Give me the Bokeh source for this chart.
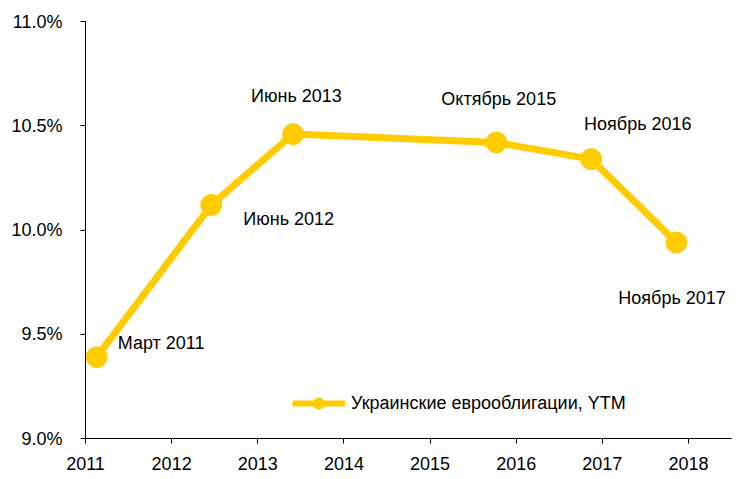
from bokeh.plotting import figure
from bokeh.models import (ColumnDataSource, FixedTicker, PrintfTickFormatter,
                          Range1d, Legend, LegendItem, LabelSet)
from bokeh.core.properties import value
from bokeh.embed import file_html
from bokeh.resources import INLINE

# ---- data ----
dates = [2011.13, 2012.46, 2013.41, 2015.77, 2016.87, 2017.86]
ytm = [9.39, 10.12, 10.46, 10.42, 10.34, 9.94]
point_labels = ["Март 2011", "Июнь 2012", "Июнь 2013", "Октябрь 2015",
                "Ноябрь 2016", "Ноябрь 2017"]
year_ticks = [2011, 2012, 2013, 2014, 2015, 2016, 2017, 2018]
pct_ticks = [9.0, 9.5, 10.0, 10.5, 11.0]
series_name = "Украинские еврооблигации, YTM"

# label offsets (pixels) — layout only
label_dx = [21, 32, -42, -55, -7, -58]
label_dy = [-14, 14, -38, -43, -35, 55]

FONT = "Liberation Sans"
FS = "18px"
YELLOW = "#FFCC00"

src = ColumnDataSource(dict(x=dates, y=ytm, lab=point_labels,
                            dx=label_dx, dy=[-d for d in label_dy]))

p = figure(width=739, height=479, output_backend="svg", toolbar_location=None,
           x_range=Range1d(2011, 2018.5), y_range=Range1d(9.0, 11.0),
           min_border_left=85, min_border_right=8, min_border_top=21,
           min_border_bottom=41, frame_width=646, frame_height=417)
p.outline_line_color = None
p.xgrid.visible = False
p.ygrid.visible = False
p.background_fill_color = "white"

p.line("x", "y", source=src, line_color=YELLOW, line_width=7)
p.scatter("x", "y", source=src, size=21, fill_color=YELLOW, line_color=YELLOW)
labels = LabelSet(x="x", y="y", text="lab", source=src, x_offset="dx", y_offset="dy",
                  text_font=value(FONT), text_font_size=value(FS),
                  text_color=value("black"),
                  text_align=value("left"), text_baseline=value("middle"))
p.add_layout(labels)

# legend-only renderers
nan = float("nan")
dummy = ColumnDataSource(dict(x=[nan], y=[nan]))
lg_line = p.line("x", "y", source=dummy, line_color=YELLOW, line_width=6)
lg_pt = p.scatter("x", "y", source=dummy, size=12, fill_color=YELLOW, line_color=YELLOW)
legend = Legend(items=[LegendItem(label=series_name, renderers=[lg_line, lg_pt])],
                location=(207, 21), padding=0, margin=0, border_line_color=None,
                background_fill_alpha=0, glyph_width=53, glyph_height=28,
                label_height=16, label_standoff=6,
                label_text_font=FONT, label_text_font_size=FS,
                label_text_color="black")
p.add_layout(legend, "center")

for ax in (p.xaxis, p.yaxis):
    ax.axis_line_color = "black"
    ax.major_tick_line_color = "black"
    ax.minor_tick_line_color = None
    ax.major_tick_in = 0
    ax.major_tick_out = 5
    ax.major_label_text_font = FONT
    ax.major_label_text_font_size = FS
    ax.major_label_text_color = "black"

p.xaxis.ticker = FixedTicker(ticks=year_ticks)
p.xaxis.major_label_standoff = 13
p.yaxis.ticker = FixedTicker(ticks=pct_ticks)
p.yaxis.formatter = PrintfTickFormatter(format="%.1f%%")
p.yaxis.major_label_standoff = 18

open("out.html", "w").write(file_html(p, INLINE))
